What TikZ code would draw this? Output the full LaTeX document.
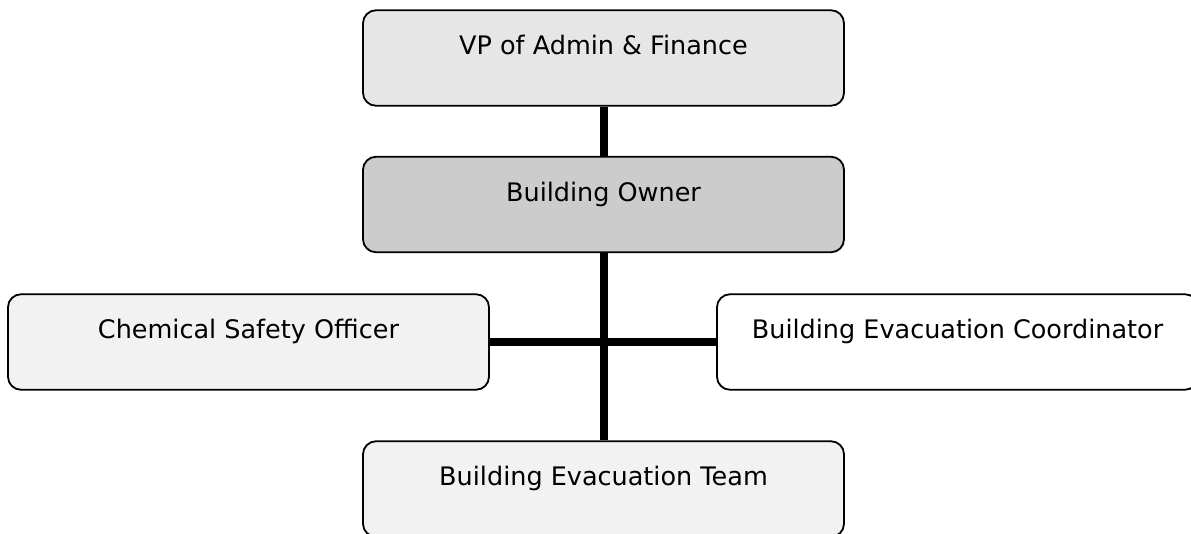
\documentclass[tikz,border=0pt]{standalone}
\usepackage{fontspec}
\setmainfont{DejaVu Sans}
\usetikzlibrary{backgrounds}
\definecolor{vpfill}{HTML}{E6E6E6}
\definecolor{ownerfill}{HTML}{CCCCCC}
\definecolor{lightfill}{HTML}{F2F2F2}
\tikzset{
  orgbox/.style={draw=black, line width=1.8pt, rounded corners=13pt,
    minimum width=481pt, inner xsep=0pt, inner ysep=0pt,
    text height=44.5pt, text depth=51pt, align=center,
    font=\fontsize{25.5}{30}\selectfont},
  link/.style={line width=8pt, draw=black}
}
\begin{document}
\begin{tikzpicture}[x=1pt,y=1pt]
\useasboundingbox (0,0) rectangle (1191,-533);
\node[orgbox, fill=vpfill] (vp) at (603.5,-58) {VP of Admin \& Finance};
\node[orgbox, fill=ownerfill] (owner) at (603.5,-204.5) {Building Owner};
\node[orgbox, fill=lightfill] (cso) at (248.5,-342) {Chemical Safety Officer};
\node[orgbox, fill=white] (coord) at (957.5,-342) {Building Evacuation Coordinator};
\node[orgbox, fill=lightfill] (team) at (603.5,-489) {Building Evacuation Team};
\begin{scope}[on background layer]
\draw[link] (vp.south) -- (owner.north);
\draw[link] (owner.south) -- (team.north);
\draw[link] (cso.east) -- (coord.west);
\end{scope}
\end{tikzpicture}
\end{document}
